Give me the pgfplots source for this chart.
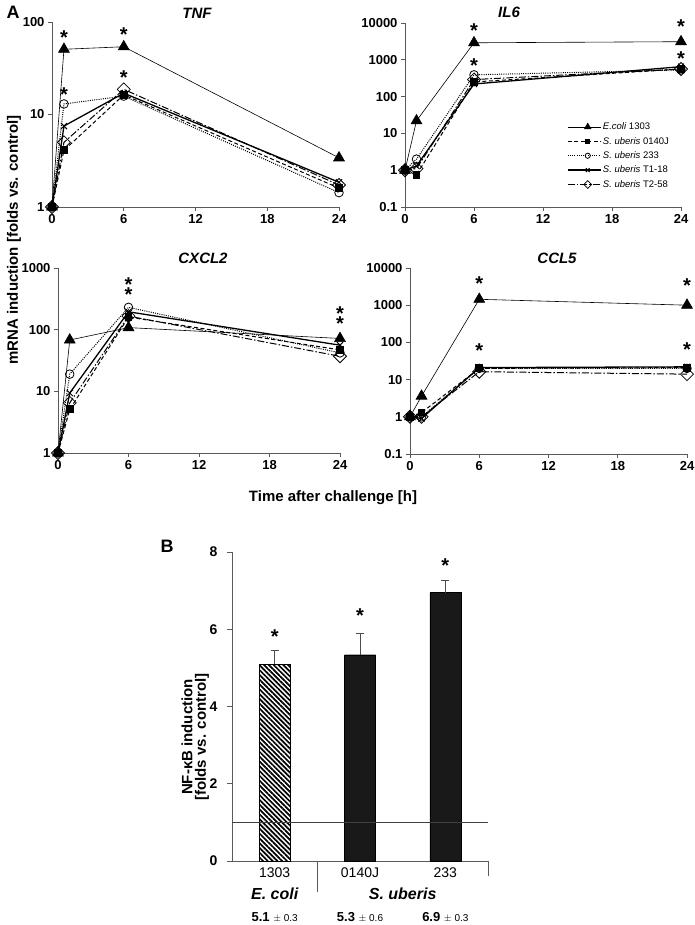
\documentclass[border=0pt]{standalone}
\usepackage{pgfplots}
\pgfplotsset{compat=1.18}
\usepackage{fontspec}
\setmainfont{Liberation Sans}
\usetikzlibrary{patterns.meta}

\pgfplotsset{
  ecoli/.style={black, line width=0.6pt, mark=triangle*, mark size=6.3pt, mark options={solid, fill=black}},
  sa/.style={black, line width=1pt, dash pattern=on 4pt off 2.5pt, mark=square*, mark size=3.4pt, mark options={solid, fill=black}},
  sb/.style={black, line width=1pt, dash pattern=on 1pt off 1.2pt, mark=o, mark size=4.3pt, mark options={solid, fill=white, line width=0.8pt}},
  sc/.style={black, line width=1.3pt, mark=x, mark size=4.3pt, mark options={solid, line width=1pt}},
  sd/.style={black, line width=1pt, dash pattern=on 7pt off 2pt on 1.5pt off 2pt, mark=square, mark size=4.6pt, mark options={solid, rotate=45, fill=white, line width=0.8pt}},
}
\tikzset{sigstar/.style={font=\fontsize{20}{20}\selectfont\bfseries, anchor=center, yshift=-4pt, inner sep=0pt}}

\begin{document}
\begin{tikzpicture}[x=1pt,y=1pt]
\path[use as bounding box] (0,0) rectangle (695,925);

% ---------------- TNF
\begin{axis}[ymode=log, scale only axis, at={(52pt,718pt)}, anchor=south west, width=287pt, height=185pt,
  xmin=0, xmax=24, xtick={0,6,12,18,24}, xticklabels={0,6,12,18,24}, yminorticks=false,
  axis x line*=bottom, axis y line*=left,
  axis line style={black!65, line width=0.6pt},
  tick style={black!65, line width=0.6pt},
  tick align=outside, major tick length=4pt,
  tick label style={font=\fontsize{13}{13}\selectfont\bfseries},
  clip=false,
  ymin=1, ymax=100, ytick={1,10,100}, yticklabels={1,10,100}]
\addplot[ecoli] coordinates {(0,1) (1,50.7) (6,54) (24,3.4)};
\addplot[sa] coordinates {(0,1) (1,4.1) (6,16.3) (24,1.6)};
\addplot[sb] coordinates {(0,1) (1,13) (6,15.8) (24,1.43)};
\addplot[sc] coordinates {(0,1) (1,7.5) (6,17) (24,1.85)};
\addplot[sd] coordinates {(0,1) (1,5) (6,18.7) (24,1.73)};
\node[sigstar] at (axis cs:1,74) {*};
\node[sigstar] at (axis cs:6,80) {*};
\node[sigstar] at (axis cs:6,28) {*};
\node[sigstar] at (axis cs:1,18) {*};
\end{axis}

% ---------------- IL6
\begin{axis}[ymode=log, scale only axis, at={(405pt,718pt)}, anchor=south west, width=276pt, height=184pt,
  xmin=0, xmax=24, xtick={0,6,12,18,24}, xticklabels={0,6,12,18,24}, yminorticks=false,
  axis x line*=bottom, axis y line*=left,
  axis line style={black!65, line width=0.6pt},
  tick style={black!65, line width=0.6pt},
  tick align=outside, major tick length=4pt,
  tick label style={font=\fontsize{13}{13}\selectfont\bfseries},
  clip=false,
  ymin=0.1, ymax=10000, ytick={0.1,1,10,100,1000,10000}, yticklabels={0.1,1,10,100,1000,10000},
  legend style={at={(0.583,0.475)}, anchor=north west, draw=none, fill=none,
    font=\fontsize{9.5}{11}\selectfont, row sep=2pt, inner sep=1pt,
    nodes={inner xsep=1.5pt}},
  legend cell align=left,
  legend image code/.code={\draw[#1, mark=none] (0pt,0pt) -- (33pt,0pt); \draw[#1, every mark/.append style={scale=0.6}] plot coordinates {(20pt,0pt)};}]
\addplot[ecoli] coordinates {(0,1) (1,22) (6,2900) (24,3100)};
\addlegendentry{\textit{E.coli} 1303}
\addplot[sa] coordinates {(0,1) (1,0.75) (6,250) (24,560)};
\addlegendentry{\textit{S. uberis} 0140J}
\addplot[sb] coordinates {(0,1) (1,2.0) (6,390) (24,530)};
\addlegendentry{\textit{S. uberis} 233}
\addplot[sc] coordinates {(0,1) (1,1.3) (6,220) (24,650)};
\addlegendentry{\textit{S. uberis} T1-18}
\addplot[sd] coordinates {(0,1) (1,1.1) (6,290) (24,560)};
\addlegendentry{\textit{S. uberis} T2-58}
\node[sigstar] at (axis cs:6,7900) {*};
\node[sigstar] at (axis cs:6,890) {*};
\node[sigstar] at (axis cs:24,10000) {*};
\node[sigstar] at (axis cs:24,1380) {*};
\end{axis}

% ---------------- CXCL2
\begin{axis}[ymode=log, scale only axis, at={(58pt,472pt)}, anchor=south west, width=282pt, height=185pt,
  xmin=0, xmax=24, xtick={0,6,12,18,24}, xticklabels={0,6,12,18,24}, yminorticks=false,
  axis x line*=bottom, axis y line*=left,
  axis line style={black!65, line width=0.6pt},
  tick style={black!65, line width=0.6pt},
  tick align=outside, major tick length=4pt,
  tick label style={font=\fontsize{13}{13}\selectfont\bfseries},
  clip=false,
  ymin=1, ymax=1000, ytick={1,10,100,1000}, yticklabels={1,10,100,1000}]
\addplot[ecoli] coordinates {(0,1) (1,68) (6,108) (24,72)};
\addplot[sa] coordinates {(0,1) (1,5.1) (6,160) (24,47)};
\addplot[sb] coordinates {(0,1) (1,19) (6,230) (24,42)};
\addplot[sc] coordinates {(0,1) (1,9.4) (6,195) (24,56)};
\addplot[sd] coordinates {(0,1) (1,6.5) (6,166) (24,37)};
\node[sigstar] at (axis cs:6,630) {*};
\node[sigstar] at (axis cs:6,425) {*};
\node[sigstar] at (axis cs:24,215) {*};
\node[sigstar] at (axis cs:24,143) {*};
\end{axis}

% ---------------- CCL5
\begin{axis}[ymode=log, scale only axis, at={(410pt,471pt)}, anchor=south west, width=277pt, height=186pt,
  xmin=0, xmax=24, xtick={0,6,12,18,24}, xticklabels={0,6,12,18,24}, yminorticks=false,
  axis x line*=bottom, axis y line*=left,
  axis line style={black!65, line width=0.6pt},
  tick style={black!65, line width=0.6pt},
  tick align=outside, major tick length=4pt,
  tick label style={font=\fontsize{13}{13}\selectfont\bfseries},
  clip=false,
  ymin=0.1, ymax=10000, ytick={0.1,1,10,100,1000,10000}, yticklabels={0.1,1,10,100,1000,10000}]
\addplot[ecoli] coordinates {(0,1) (1,3.6) (6,1440) (24,1000)};
\addplot[sa] coordinates {(0,1) (1,1.3) (6,20) (24,21)};
\addplot[sb] coordinates {(0,1) (1,1.0) (6,20) (24,20)};
\addplot[sc] coordinates {(0,1) (1,0.9) (6,21) (24,22)};
\addplot[sd] coordinates {(0,1) (1,1.0) (6,16.3) (24,14)};
\node[sigstar] at (axis cs:6,5000) {*};
\node[sigstar] at (axis cs:6,75) {*};
\node[sigstar] at (axis cs:24,4200) {*};
\node[sigstar] at (axis cs:24,80) {*};
\end{axis}

% ---------------- titles and labels for A
\node[font=\fontsize{18}{18}\selectfont\bfseries] at (13,913) {A};
\node[font=\fontsize{15}{15}\selectfont\bfseries\itshape] at (197,912) {TNF};
\node[font=\fontsize{15}{15}\selectfont\bfseries\itshape] at (509,913) {IL6};
\node[font=\fontsize{15}{15}\selectfont\bfseries\itshape] at (203,667) {CXCL2};
\node[font=\fontsize{15}{15}\selectfont\bfseries\itshape] at (557,667) {CCL5};
\node[font=\fontsize{15}{15}\selectfont\bfseries, rotate=90] at (14,685) {mRNA induction [folds vs. control]};
\node[font=\fontsize{15}{15}\selectfont\bfseries] at (333,427) {Time after challenge [h]};

% ---------------- B
\node[font=\fontsize{18}{18}\selectfont\bfseries] at (167,379) {B};
\node[font=\fontsize{15}{15}\selectfont\bfseries, rotate=90] at (187,188) {NF-κB induction};
\node[font=\fontsize{15}{15}\selectfont\bfseries, rotate=90] at (202,188) {[folds vs. control]};
\begin{axis}[at={(232pt,64pt)}, anchor=south west, scale only axis, width=256pt, height=309pt,
  xmin=0, xmax=3, ymin=0, ymax=8, ytick={0,2,4,6,8}, yticklabels={0,2,4,6,8},
  xtick={0.5,1.5,2.5}, xticklabels={1303,0140J,233},
  axis x line*=bottom, axis y line*=left,
  axis line style={black!65, line width=0.6pt},
  ytick style={black!65, line width=0.6pt}, xtick style={draw=none},
  tick align=outside, major tick length=5pt,
  yticklabel style={font=\fontsize{14}{14}\selectfont\bfseries, xshift=-6pt},
  xticklabel style={font=\fontsize{14}{14}\selectfont, yshift=2pt},
  clip=false]
\addplot[ybar, bar width=31pt, bar shift=0pt, draw=black, line width=0.8pt, fill=white,
  postaction={pattern={Lines[angle=-45, distance=3.4pt, line width=1.7pt]}},
  error bars/.cd, y dir=plus, y explicit,
  error bar style={black!70, line width=0.8pt},
  error mark options={rotate=90, mark size=4pt, black!70, line width=0.8pt}]
  coordinates {(0.5,5.1) +- (0,0.34)};
\addplot[ybar, bar width=31pt, bar shift=0pt, draw=black, fill=black!90,
  error bars/.cd, y dir=plus, y explicit,
  error bar style={black!70, line width=0.8pt},
  error mark options={rotate=90, mark size=4pt, black!70, line width=0.8pt}]
  coordinates {(1.5,5.34) +- (0,0.56) (2.5,6.95) +- (0,0.32)};
\addplot[black!75, line width=0.4pt, no marks] coordinates {(0,1) (3,1)};
\node[sigstar] at (axis cs:0.5,5.9) {*};
\node[sigstar] at (axis cs:1.5,6.45) {*};
\node[sigstar] at (axis cs:2.5,7.75) {*};
\draw[black!65, line width=0.6pt] (axis cs:1,0) -- ++(0,-31pt);
\draw[black!65, line width=0.6pt] (axis cs:3,0) -- ++(0,-15pt);
\node[font=\fontsize{16}{16}\selectfont\bfseries\itshape] at ([yshift=-33pt]axis cs:0.5,0) {E. coli};
\node[font=\fontsize{16}{16}\selectfont\bfseries\itshape] at ([yshift=-33pt]axis cs:2,0) {S. uberis};
\node at ([yshift=-56pt]axis cs:0.5,0) {\fontsize{13}{13}\selectfont\bfseries 5.1 \mdseries\fontsize{10}{10}\selectfont$\pm$ 0.3};
\node at ([yshift=-56pt]axis cs:1.5,0) {\fontsize{13}{13}\selectfont\bfseries 5.3 \mdseries\fontsize{10}{10}\selectfont$\pm$ 0.6};
\node at ([yshift=-56pt]axis cs:2.5,0) {\fontsize{13}{13}\selectfont\bfseries 6.9 \mdseries\fontsize{10}{10}\selectfont$\pm$ 0.3};
\end{axis}
\end{tikzpicture}
\end{document}
